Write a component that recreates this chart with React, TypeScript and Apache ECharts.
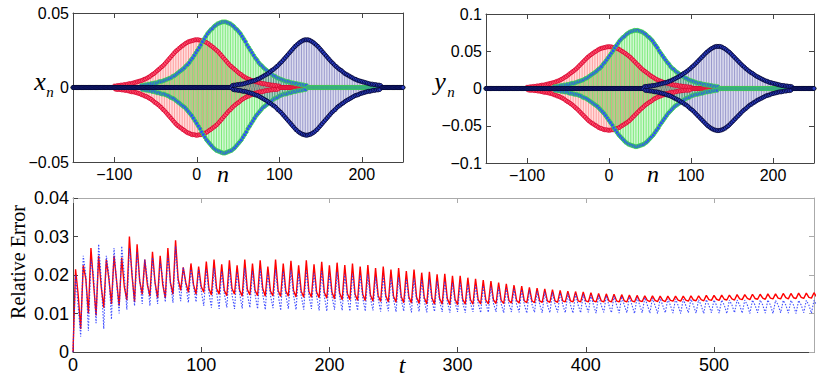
import React, { useEffect, useRef } from "react";
import * as echarts from "echarts";

// ---------- top panels: stem data (signed envelope readings, % of peak, one entry per n) ----------
const N_MIN = -150;
const N_MAX = 250;
const nTicks = [-100, 0, 100, 200];

const RED_START = -100;
const redProfile = [
  3,-3,3,-4,4,-4,4,-4,5,-5,
  5,-5,6,-6,6,-6,7,-7,8,-8,
  8,-9,9,-9,10,-10,11,-11,12,-12,
  13,-13,14,-15,15,-16,17,-18,18,-19,
  20,-21,22,-23,24,-25,27,-28,29,-31,
  32,-33,35,-36,38,-39,41,-42,44,-46,
  47,-49,51,-53,55,-57,59,-61,63,-65,
  67,-69,71,-73,75,-77,78,-80,81,-83,
  84,-85,87,-88,89,-90,92,-93,94,-95,
  96,-96,97,-98,98,-99,99,-99,100,-100,
  100,
  -100,100,-99,99,-99,98,-98,97,-96,96,
  -95,94,-93,92,-90,89,-88,87,-85,84,
  -83,81,-80,78,-77,75,-73,71,-69,67,
  -65,63,-61,59,-57,55,-53,51,-49,47,
  -46,44,-42,41,-39,38,-36,35,-33,32,
  -31,29,-28,27,-25,24,-23,22,-21,20,
  -19,18,-18,17,-16,15,-15,14,-13,13,
  -12,12,-11,11,-10,10,-9,9,-9,8,
  -8,8,-7,7,-6,6,-6,6,-5,5,
  -5,5,-4,4,-4,4,-4,3,-3,3,
];

const GREEN_START = -67;
const greenProfile = [
  3,-3,3,-3,4,-4,4,-4,5,-5,
  5,-5,6,-6,6,-6,7,-7,7,-8,
  8,-8,9,-9,9,-10,10,-10,11,-11,
  12,-12,13,-13,14,-15,15,-16,17,-17,
  18,-19,20,-21,22,-23,24,-25,26,-27,
  28,-29,30,-31,33,-34,35,-37,38,-40,
  42,-43,45,-47,49,-51,53,-55,57,-59,
  61,-63,65,-68,70,-72,74,-76,78,-80,
  82,-83,85,-86,88,-89,90,-92,93,-94,
  95,-96,97,-97,98,-98,99,-99,100,-100,
  100,
  -100,100,-99,99,-98,98,-97,97,-96,95,
  -94,93,-92,90,-89,88,-86,85,-83,82,
  -80,78,-76,74,-72,70,-68,65,-63,61,
  -59,57,-55,53,-51,49,-47,45,-43,42,
  -40,38,-37,35,-34,33,-31,30,-29,28,
  -27,26,-25,24,-23,22,-21,20,-19,18,
  -17,17,-16,15,-15,14,-13,13,-12,12,
  -11,11,-10,10,-10,9,-9,9,-8,8,
  -8,7,-7,7,-6,6,-6,6,-5,5,
  -5,5,-4,4,-4,4,-3,3,-3,3,
];

const NAVY_START = 43;
const navyProfile = [
  4,-4,5,-5,5,-5,6,-6,6,-6,
  7,-7,7,-8,8,-8,9,-9,10,-10,
  11,-11,12,-12,13,-13,14,-15,15,-16,
  17,-17,18,-19,20,-21,22,-23,24,-25,
  26,-27,28,-29,30,-32,33,-34,36,-37,
  38,-39,41,-42,44,-46,47,-49,51,-52,
  54,-56,58,-60,62,-64,66,-68,70,-72,
  74,-76,78,-80,82,-84,86,-88,89,-91,
  92,-94,95,-96,97,-98,99,-99,100,-100,
  100,
  -100,100,-99,99,-98,97,-96,95,-94,92,
  -91,89,-88,86,-84,82,-80,78,-76,74,
  -72,70,-68,66,-64,62,-60,58,-56,54,
  -52,51,-49,47,-46,44,-42,41,-39,38,
  -37,36,-34,33,-32,30,-29,28,-27,26,
  -25,24,-23,22,-21,20,-19,18,-17,17,
  -16,15,-15,14,-13,13,-12,12,-11,11,
  -10,10,-9,9,-8,8,-8,7,-7,7,
  -6,6,-6,6,-5,5,-5,5,-4,4,
];

// peak amplitudes: [red, green, navy]
const xPeaks = [0.032, 0.044, 0.032];
const yPeaks = [0.056, 0.078, 0.0565];

// ---------- bottom panel: relative error, sampled every T_STEP, in units of 1e-4 ----------
const T_STEP = 2;
const tTicks = [0, 100, 200, 300, 400, 500];
const redError = [
  0,215,150,60,225,190,
  100,270,180,95,250,170,
  115,240,190,125,250,185,
  120,245,170,135,300,200,
  130,280,185,150,240,175,
  145,260,180,140,250,175,
  140,270,180,150,290,190,
  160,220,180,155,230,175,
  150,222,170,155,235,165,
  148,240,165,150,228,160,
  146,238,165,150,225,160,
  145,240,162,148,230,160,
  146,238,165,145,222,158,
  146,240,160,144,230,158,
  145,237,160,143,225,158,
  142,238,157,142,228,156,
  141,234,155,140,225,155,
  138,232,153,136,226,152,
  136,230,150,134,222,150,
  133,226,148,132,218,147,
  131,222,146,130,214,145,
  129,218,144,128,210,143,
  127,214,142,126,206,141,
  125,208,140,124,202,139,
  124,203,138,123,198,137,
  123,198,137,124,193,136,
  124,190,136,125,187,135,
  125,184,135,126,180,134,
  126,177,134,127,174,134,
  127,171,133,128,168,133,
  128,166,133,129,164,133,
  129,162,133,129,160,133,
  130,158,133,130,157,133,
  130,156,133,130,154,133,
  130,152,133,130,151,133,
  130,150,133,130,149,133,
  130,148,133,130,147,133,
  131,146,134,131,146,134,
  131,145,134,131,145,134,
  132,145,135,132,145,135,
  132,146,135,133,146,136,
  133,147,136,134,147,137,
  134,148,137,135,148,138,
  135,149,138,136,149,139,
  136,150,139,137,150,140,
  137,151,140,138,151,140,
  138,152,141,138,152,141,
  139,153,142,139,153,142,
  140,154,143,
];
const blueError = [
  0,200,120,40,250,200,
  55,240,200,75,280,190,
  60,250,200,85,270,180,
  100,275,200,110,270,210,
  120,260,190,125,240,190,
  120,245,180,125,235,190,
  130,250,180,128,275,180,
  132,220,175,128,215,170,
  130,215,160,120,215,155,
  115,218,155,112,210,152,
  116,216,150,112,208,152,
  113,218,150,115,210,150,
  112,216,150,110,206,148,
  114,214,150,108,210,148,
  112,212,148,110,205,147,
  110,212,147,112,206,146,
  108,210,146,106,204,145,
  110,208,144,108,203,143,
  106,204,142,108,200,141,
  106,201,140,108,196,139,
  105,198,138,106,193,137,
  104,194,136,106,190,135,
  103,191,134,105,187,133,
  103,188,132,105,184,131,
  104,184,130,102,180,129,
  104,180,128,102,176,127,
  104,174,127,102,172,126,
  103,170,126,104,168,125,
  102,166,125,104,164,124,
  103,162,124,101,160,124,
  103,158,124,102,156,123,
  102,155,123,103,153,123,
  102,152,123,101,151,122,
  102,150,122,103,148,122,
  101,147,122,103,146,122,
  102,145,122,101,144,122,
  102,143,122,100,142,122,
  102,141,122,101,140,121,
  100,139,121,102,138,121,
  101,138,121,100,137,121,
  102,137,121,101,136,121,
  100,136,121,102,135,121,
  101,135,122,100,135,122,
  102,135,122,101,135,122,
  100,135,122,102,135,122,
  101,135,122,100,134,122,
  102,134,122,101,134,122,
  100,134,122,102,134,122,
  101,134,122,
];

const SANS = '"Liberation Sans", Arial, Helvetica, sans-serif';
const SERIF = '"Liberation Serif", "Times New Roman", serif';

function stemData(start: number, profile: number[], peak: number) {
  const out: number[][] = [];
  for (let n = N_MIN; n <= N_MAX; n++) {
    const i = n - start;
    const p = i >= 0 && i < profile.length ? profile[i] : 0;
    out.push([n, (p / 100) * peak]);
  }
  return out;
}

function errData(vals: number[]) {
  return vals.map((v, i) => [i * T_STEP, v / 10000]);
}

const fmt = (v: number) => {
  const s = String(parseFloat(Number(v).toFixed(4)));
  return s.startsWith("-") ? "\u2212" + s.slice(1) : s;
};

const PACKETS = [
  { start: RED_START, profile: redProfile, stem: "#ff1a1a", stemOp: 0.7, fill: "#ff4d6d", border: "#d6002b" },
  { start: GREEN_START, profile: greenProfile, stem: "#00d800", stemOp: 0.85, fill: "#2f4dff", border: "#40e040" },
  { start: NAVY_START, profile: navyProfile, stem: "#1c1c8f", stemOp: 0.75, fill: "#2a3cc0", border: "#000028" },
];

function stemSeries(data: number[][], xi: number, yi: number, color: string, op: number) {
  return {
    type: "custom",
    xAxisIndex: xi,
    yAxisIndex: yi,
    data,
    silent: true,
    encode: { x: 0, y: 1 },
    renderItem: (_p: any, api: any) => {
      const n = api.value(0);
      const v = api.value(1);
      const a = api.coord([n, 0]);
      const b = api.coord([n, v]);
      return {
        type: "line",
        shape: { x1: a[0], y1: a[1], x2: b[0], y2: b[1] },
        style: { stroke: color, lineWidth: 0.6, opacity: op },
      };
    },
  };
}

function markerSeries(data: number[][], xi: number, yi: number, fill: string, border: string) {
  return {
    type: "scatter",
    xAxisIndex: xi,
    yAxisIndex: yi,
    data,
    silent: true,
    symbol: "circle",
    symbolSize: 4,
    itemStyle: { color: fill, borderColor: border, borderWidth: 0.8, opacity: 1 },
  };
}

function xAx(grid: number, pos: "bottom" | "top", min: number, max: number, ticks: number[], labels: boolean, color: string, fs: number) {
  return {
    type: "value",
    gridIndex: grid,
    position: pos,
    min,
    max,
    axisLine: { show: true, onZero: false, lineStyle: { color, width: 1 } },
    axisTick: { show: true, inside: true, length: 5, customValues: ticks, lineStyle: { color } },
    axisLabel: {
      show: labels,
      customValues: ticks,
      formatter: fmt,
      color: "#000",
      fontSize: fs,
      fontFamily: SANS,
      margin: 4,
    },
    splitLine: { show: false },
  };
}

function yAx(grid: number, pos: "left" | "right", min: number, max: number, interval: number, labels: boolean, color: string, fs: number) {
  return {
    type: "value",
    gridIndex: grid,
    position: pos,
    min,
    max,
    interval,
    axisLine: { show: true, onZero: false, lineStyle: { color, width: 1 } },
    axisTick: { show: true, inside: true, length: 5, lineStyle: { color } },
    axisLabel: {
      show: labels,
      formatter: fmt,
      color: "#000",
      fontSize: fs,
      fontFamily: SANS,
      margin: 4,
    },
    splitLine: { show: false },
  };
}

export default function App() {
  const ref = useRef<HTMLDivElement>(null);
  useEffect(() => {
    if (!ref.current) return;
    const chart = echarts.init(ref.current, undefined, { renderer: "svg" });

    const series: any[] = [];
    PACKETS.forEach((p, k) => {
      const d = stemData(p.start, p.profile, xPeaks[k]);
      series.push(stemSeries(d, 0, 0, p.stem, p.stemOp));
      series.push(markerSeries(d, 0, 0, p.fill, p.border));
    });
    PACKETS.forEach((p, k) => {
      const d = stemData(p.start, p.profile, yPeaks[k]);
      series.push(stemSeries(d, 2, 2, p.stem, p.stemOp));
      series.push(markerSeries(d, 2, 2, p.fill, p.border));
    });
    series.push({
      type: "line",
      xAxisIndex: 4,
      yAxisIndex: 4,
      data: errData(redError),
      showSymbol: false,
      silent: true,
      lineStyle: { color: "#ff0000", width: 1.4 },
    });
    series.push({
      type: "line",
      xAxisIndex: 4,
      yAxisIndex: 4,
      data: errData(blueError),
      showSymbol: false,
      silent: true,
      lineStyle: { color: "#2030ff", width: 1.1, type: [1.5, 1.5], opacity: 0.85 },
    });

    const dark = "#444";
    const light = "#aaa";

    chart.setOption({
      animation: false,
      backgroundColor: "#fff",
      grid: [
        { left: 73, top: 13, width: 330, height: 149 },
        { left: 486, top: 14, width: 328, height: 149 },
        { left: 73, top: 198, width: 741, height: 154 },
      ],
      xAxis: [
        xAx(0, "bottom", N_MIN, N_MAX, nTicks, true, dark, 16),
        xAx(0, "top", N_MIN, N_MAX, nTicks, false, dark, 16),
        xAx(1, "bottom", N_MIN, N_MAX, nTicks, true, dark, 16),
        xAx(1, "top", N_MIN, N_MAX, nTicks, false, dark, 16),
        xAx(2, "bottom", 0, 578, tTicks, true, dark, 18),
        xAx(2, "top", 0, 578, tTicks, false, light, 18),
      ],
      yAxis: [
        yAx(0, "left", -0.05, 0.05, 0.05, true, dark, 16),
        yAx(0, "right", -0.05, 0.05, 0.05, false, dark, 16),
        yAx(1, "left", -0.1, 0.1, 0.05, true, dark, 16),
        yAx(1, "right", -0.1, 0.1, 0.05, false, dark, 16),
        yAx(2, "left", 0, 0.04, 0.01, true, dark, 18),
        yAx(2, "right", 0, 0.04, 0.01, false, light, 18),
      ],
      series,
      graphic: [
        { type: "text", x: 40, y: 81, style: { text: "x", font: `italic 26px ${SERIF}`, fill: "#000", align: "center", verticalAlign: "middle" } },
        { type: "text", x: 50, y: 92, style: { text: "n", font: `italic 15px ${SERIF}`, fill: "#000", align: "center", verticalAlign: "middle" } },
        { type: "text", x: 440, y: 81, style: { text: "y", font: `italic 26px ${SERIF}`, fill: "#000", align: "center", verticalAlign: "middle" } },
        { type: "text", x: 451, y: 92, style: { text: "n", font: `italic 15px ${SERIF}`, fill: "#000", align: "center", verticalAlign: "middle" } },
        { type: "text", x: 223, y: 174, style: { text: "n", font: `italic 24px ${SERIF}`, fill: "#000", align: "center", verticalAlign: "middle" } },
        { type: "text", x: 653, y: 174, style: { text: "n", font: `italic 24px ${SERIF}`, fill: "#000", align: "center", verticalAlign: "middle" } },
        { type: "text", x: 402, y: 365, style: { text: "t", font: `italic 24px ${SERIF}`, fill: "#000", align: "center", verticalAlign: "middle" } },
        {
          type: "text",
          x: 18,
          y: 262,
          rotation: Math.PI / 2,
          style: { text: "Relative Error", font: `20px ${SERIF}`, fill: "#000", align: "center", verticalAlign: "middle" },
        },
      ],
    });
    return () => chart.dispose();
  }, []);
  return <div ref={ref} style={{ position: "absolute", left: 0, top: 0, width: 830, height: 386 }} />;
}
